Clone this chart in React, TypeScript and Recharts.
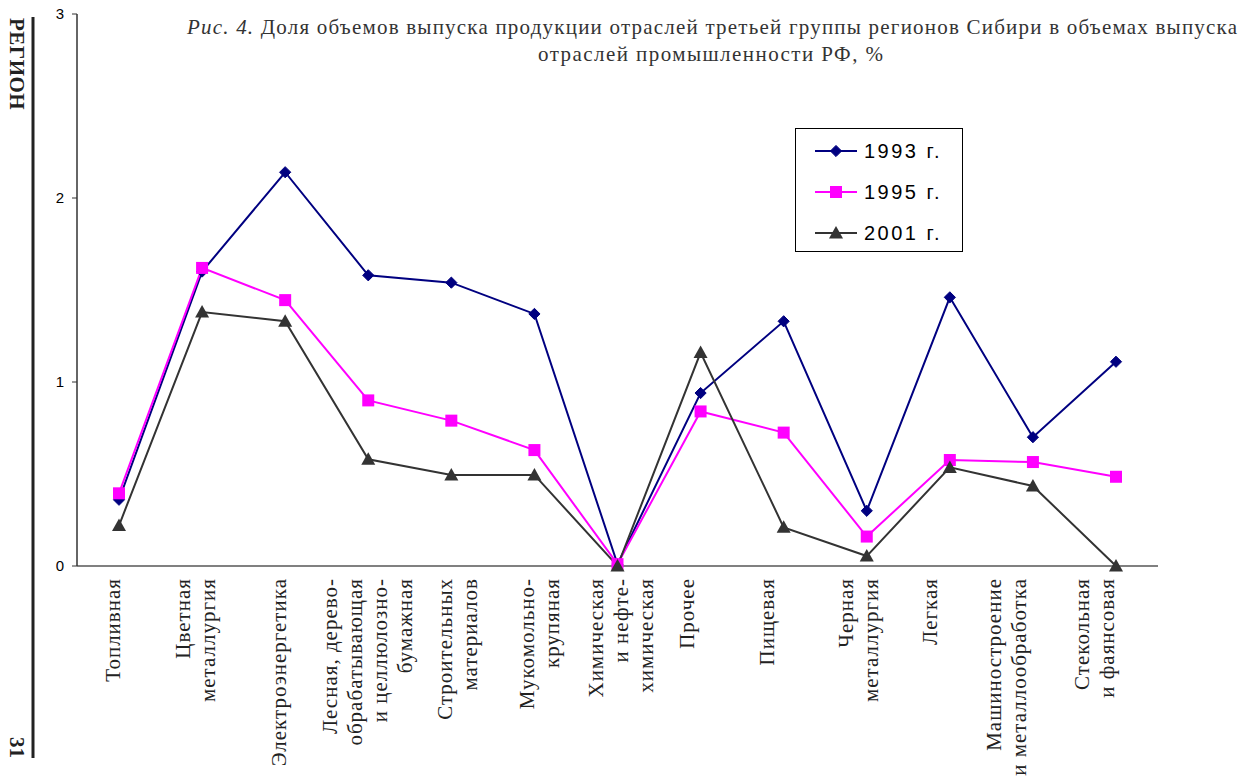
import React from 'react';
import { LineChart, Line, XAxis, YAxis, Legend, Customized } from 'recharts';

// Industry categories (multi-line labels split by "\n")
const categories: string[] = [
  'Топливная',
  'Цветная\nметаллургия',
  'Электроэнергетика',
  'Лесная, дерево-\nобрабатывающая\nи целлюлозно-\nбумажная',
  'Строительных\nматериалов',
  'Мукомольно-\nкрупяная',
  'Химическая\nи нефте-\nхимическая',
  'Прочее',
  'Пищевая',
  'Черная\nметаллургия',
  'Легкая',
  'Машиностроение\nи металлообработка',
  'Стекольная\nи фаянсовая',
];

// Share of Russian industrial output, %
const share1993: number[] = [0.36, 1.6, 2.14, 1.58, 1.54, 1.37, 0.01, 0.94, 1.33, 0.3, 1.46, 0.7, 1.11];
const share1995: number[] = [0.395, 1.62, 1.445, 0.9, 0.79, 0.63, 0.01, 0.84, 0.725, 0.16, 0.576, 0.565, 0.485];
const share2001: number[] = [0.22, 1.38, 1.33, 0.58, 0.495, 0.495, 0.0, 1.16, 0.21, 0.054, 0.536, 0.435, 0.0];

const yTicks: number[] = [0, 1, 2, 3];

const seriesNames = ['1993 г.', '1995 г.', '2001 г.'];

// Horizontal nudge of each category label block relative to its tick
const labelShift: number[] = [1, 0.5, 1, 6.5, 13.5, 12.5, 10, -7, -10, -1.5, -13, -19.5, -15];

const data = categories.map((c, i) => ({
  name: c,
  y1993: share1993[i],
  y1995: share1995[i],
  y2001: share2001[i],
}));

const NAVY = '#000080';
const MAGENTA = '#FF00FF';
const GRAY = '#333333';
const SERIF = '"Liberation Serif", "DejaVu Serif", serif';
const SANS = '"Liberation Sans", Arial, sans-serif';

const Diamond = ({ cx, cy, r = 5.6 }: any) => (
  <polygon points={`${cx},${cy - r} ${cx + r},${cy} ${cx},${cy + r} ${cx - r},${cy}`} fill={NAVY} stroke={NAVY} />
);
const Square = ({ cx, cy, s = 12 }: any) => (
  <rect x={cx - s / 2} y={cy - s / 2} width={s} height={s} fill={MAGENTA} />
);
const Triangle = ({ cx, cy }: any) => (
  <polygon points={`${cx},${cy - 7} ${cx + 7},${cy + 5.5} ${cx - 7},${cy + 5.5}`} fill={GRAY} />
);

const renderDiamond = (p: any) => <Diamond key={`d${p.index}`} cx={p.cx} cy={p.cy} />;
const renderSquare = (p: any) => <Square key={`s${p.index}`} cx={p.cx} cy={p.cy} />;
const renderTriangle = (p: any) => <Triangle key={`t${p.index}`} cx={p.cx} cy={p.cy} />;

const CategoryTick = (props: any) => {
  const { x, y, payload, index } = props;
  const lines = String(payload.value).split('\n');
  const n = lines.length;
  const shift = labelShift[index] ?? 0;
  return (
    <g>
      {lines.map((line, i) => {
        const bx = x + shift + (i - (n - 1) / 2) * 25;
        return (
          <text
            key={i}
            x={bx}
            y={y}
            transform={`rotate(-90, ${bx}, ${y})`}
            textAnchor="end"
            fontFamily={SERIF}
            fontSize={21}
            letterSpacing={1}
            fill="#222"
          >
            {line}
          </text>
        );
      })}
    </g>
  );
};

const LegendBox = () => {
  const rows = [
    { label: seriesNames[0], color: NAVY, mark: <Diamond cx={41} cy={23} /> },
    { label: seriesNames[1], color: MAGENTA, mark: <Square cx={41} cy={64} /> },
    { label: seriesNames[2], color: GRAY, mark: <Triangle cx={41} cy={105} /> },
  ];
  const ys = [23, 64, 105];
  return (
    <svg width={168} height={124} style={{ display: 'block' }}>
      <rect x={0.5} y={0.5} width={167} height={123} fill="#fff" stroke="#000" strokeWidth={1} />
      {rows.map((r, i) => (
        <g key={r.label}>
          <line x1={20} y1={ys[i]} x2={62} y2={ys[i]} stroke={r.color} strokeWidth={2} />
          {r.mark}
          <text x={69} y={ys[i] + 7} fontFamily={SANS} fontSize={20} letterSpacing={2.5} fill="#000">
            {r.label}
          </text>
        </g>
      ))}
    </svg>
  );
};

const Decorations = () => (
  <g>
    <text
      x={187}
      y={34}
      fontFamily={SERIF}
      fontSize={21}
      fill="#333"
      textLength={1050}
      lengthAdjust="spacing"
    >
      <tspan fontStyle="italic">Рис. 4.</tspan> Доля объемов выпуска продукции отраслей третьей группы регионов Сибири в объемах выпуска
    </text>
    <text
      x={538}
      y={61}
      fontFamily={SERIF}
      fontSize={21}
      fill="#333"
      textLength={345}
      lengthAdjust="spacing"
    >
      отраслей промышленности РФ, %
    </text>
    <line x1={33} y1={17} x2={33} y2={758} stroke="#222" strokeWidth={3} />
    <text
      x={10}
      y={18}
      transform="rotate(90, 10, 18)"
      fontFamily={SERIF}
      fontWeight="bold"
      fontSize={21}
      fill="#222"
      textAnchor="start"
      letterSpacing={0.5}
    >
      РЕГИОН
    </text>
    <text
      x={10}
      y={737}
      transform="rotate(90, 10, 737)"
      fontFamily={SERIF}
      fontWeight="bold"
      fontSize={21}
      fill="#222"
      textAnchor="start"
    >
      31
    </text>
  </g>
);

export default function App() {
  return (
    <div style={{ position: 'absolute', left: 0, top: 0, width: 1244, height: 779, background: '#fff' }}>
      <LineChart width={1244} height={779} data={data} margin={{ top: 14, right: 86, bottom: 0, left: 17 }}>
        <XAxis
          dataKey="name"
          interval={0}
          height={213}
          padding={{ left: 42, right: 42 }}
          axisLine={{ stroke: '#808080', strokeWidth: 2 }}
          tickLine={false}
          tickSize={0}
          tickMargin={12}
          tick={<CategoryTick />}
        />
        <YAxis
          domain={[0, 3]}
          ticks={yTicks}
          width={60}
          axisLine={{ stroke: '#333', strokeWidth: 1.5 }}
          tickLine={{ stroke: '#333' }}
          tickSize={5}
          tickMargin={8}
          tick={{ fontFamily: SANS, fontSize: 15, fill: '#000' }}
        />
        <Legend
          layout="vertical"
          align="center"
          verticalAlign="middle"
          content={<LegendBox />}
          wrapperStyle={{ position: 'absolute', left: 795, top: 128, width: 168, height: 124 }}
        />
        <Line
          type="linear"
          dataKey="y1993"
          name={seriesNames[0]}
          stroke={NAVY}
          strokeWidth={2}
          dot={renderDiamond}
          activeDot={false}
          isAnimationActive={false}
        />
        <Line
          type="linear"
          dataKey="y1995"
          name={seriesNames[1]}
          stroke={MAGENTA}
          strokeWidth={2}
          dot={renderSquare}
          activeDot={false}
          isAnimationActive={false}
        />
        <Line
          type="linear"
          dataKey="y2001"
          name={seriesNames[2]}
          stroke={GRAY}
          strokeWidth={2}
          dot={renderTriangle}
          activeDot={false}
          isAnimationActive={false}
        />
        <Customized component={Decorations} />
      </LineChart>
    </div>
  );
}
